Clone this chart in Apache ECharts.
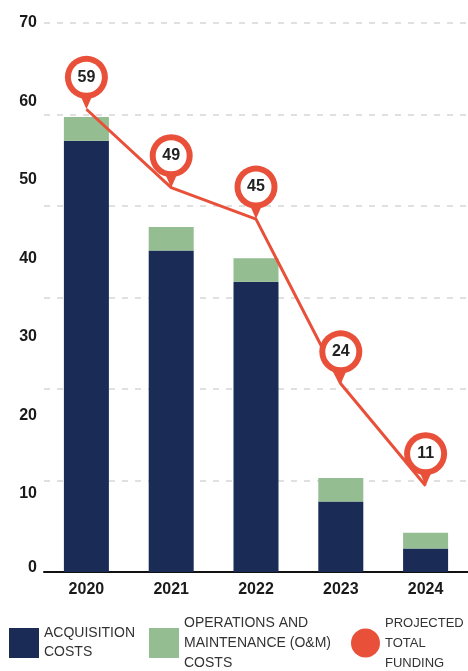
<!DOCTYPE html>
<html>
<head>
<meta charset="utf-8">
<script src="https://cdn.jsdelivr.net/npm/echarts@6/dist/echarts.min.js"></script>
<style>
html,body{margin:0;padding:0;background:#fff;}
#chart{width:468px;height:671px;}
</style>
</head>
<body>
<div id="chart"></div>
<script>
const years = ['2020', '2021', '2022', '2023', '2024'];
const acquisition = [55, 41, 37, 9, 3];
const operations = [3, 3, 3, 3, 2];
const projected = [59, 49, 45, 24, 11];
const yTicks = [0, 10, 20, 30, 40, 50, 60, 70];

const NAVY = '#1a2b55';
const GREEN = '#94bd92';
const RED = '#e9503a';
const FONT = '"Liberation Sans", Arial, sans-serif';

const legendNames = {
  'ACQUISITION COSTS': 'ACQUISITION\nCOSTS',
  'OPERATIONS AND MAINTENANCE (O&M) COSTS': 'OPERATIONS AND\nMAINTENANCE (O&M)\nCOSTS',
  'PROJECTED TOTAL FUNDING': 'PROJECTED\nTOTAL\nFUNDING'
};
const legendText2 = { color: '#333', fontSize: 14, fontFamily: FONT, lineHeight: 19 };
const legendText3 = { color: '#333', fontSize: 14, fontFamily: FONT, lineHeight: 20 };
const legendText3s = { color: '#333', fontSize: 13, fontFamily: FONT, lineHeight: 20 };

const tailPath = 'path://M0 0 L14 0 L7 16 Z';
const yLabelStyle = { color: '#1a1a1a', fontSize: 16, fontWeight: 'bold', fontFamily: FONT };

const chart = echarts.init(document.getElementById('chart'), null, { renderer: 'canvas' });
chart.setOption({
  animation: false,
  backgroundColor: '#fff',
  grid: { left: 44, right: -6, top: 23, bottom: 99, containLabel: false },
  xAxis: {
    type: 'category',
    data: years,
    axisLine: { show: true, lineStyle: { color: '#111', width: 2 } },
    axisTick: { show: false },
    axisLabel: { color: '#1a1a1a', fontSize: 16, fontWeight: 'bold', fontFamily: FONT, margin: 10 }
  },
  yAxis: [
    {
      type: 'value', min: 0, max: 70, interval: 10,
      axisLine: { show: false }, axisTick: { show: false },
      splitLine: { show: false },
      axisLabel: Object.assign({}, yLabelStyle, {
        margin: 7,
        formatter: function (v) {
          if (yTicks.indexOf(v) < 0) return '';
          return v === 0 ? '{z|0}' : String(v);
        },
        rich: { z: Object.assign({}, yLabelStyle, { padding: [0, 0, 9, 0] }) }
      })
    },
    {
      type: 'value', min: 0, max: 6, interval: 1, position: 'left',
      axisLine: { show: false }, axisTick: { show: false }, axisLabel: { show: false },
      splitLine: { show: true, lineStyle: { color: '#d6d6d6', width: 1.5, type: [6, 7] } }
    }
  ],
  legend: [
    {
      data: [{ name: 'ACQUISITION COSTS', icon: 'rect' }],
      left: 9, top: 624, padding: 0, itemWidth: 30, itemHeight: 30, itemGap: 0,
      formatter: function (n) { return legendNames[n]; }, textStyle: legendText2, selectedMode: false
    },
    {
      data: [{ name: 'OPERATIONS AND MAINTENANCE (O&M) COSTS', icon: 'rect' }],
      left: 149, top: 613, padding: 0, itemWidth: 30, itemHeight: 30, itemGap: 0,
      formatter: function (n) { return legendNames[n]; }, textStyle: legendText3, selectedMode: false
    },
    {
      data: [{ name: 'PROJECTED TOTAL FUNDING', icon: 'circle', itemStyle: { color: RED } }],
      left: 351, top: 613, padding: 0, itemWidth: 29, itemHeight: 29, itemGap: 0,
      formatter: function (n) { return legendNames[n]; }, textStyle: legendText3s, selectedMode: false
    }
  ],
  series: [
    {
      name: 'ACQUISITION COSTS', type: 'bar', stack: 'total', barWidth: 45,
      data: acquisition, itemStyle: { color: NAVY }, z: 2
    },
    {
      name: 'OPERATIONS AND MAINTENANCE (O&M) COSTS', type: 'bar', stack: 'total', barWidth: 45,
      data: operations, itemStyle: { color: GREEN }, z: 2
    },
    {
      name: 'PROJECTED TOTAL FUNDING', type: 'line', data: projected,
      lineStyle: { color: RED, width: 3 }, itemStyle: { color: RED },
      symbol: 'none', z: 5
    },
    {
      name: 'pintail', type: 'scatter', data: projected,
      symbol: tailPath, symbolSize: [14, 16], symbolOffset: [0, -8],
      itemStyle: { color: RED, opacity: 1 }, z: 6
    },
    {
      name: 'pinring', type: 'scatter', data: projected,
      symbol: 'circle', symbolSize: 43, symbolOffset: [0, -32],
      itemStyle: { color: RED, opacity: 1 }, z: 7
    },
    {
      name: 'pinface', type: 'scatter', data: projected,
      symbol: 'circle', symbolSize: 31, symbolOffset: [0, -32],
      itemStyle: { color: '#fff', opacity: 1 },
      label: { show: true, position: 'inside', color: '#222', fontSize: 16, fontWeight: 'bold', fontFamily: FONT },
      z: 8
    }
  ]
});
</script>
</body>
</html>
